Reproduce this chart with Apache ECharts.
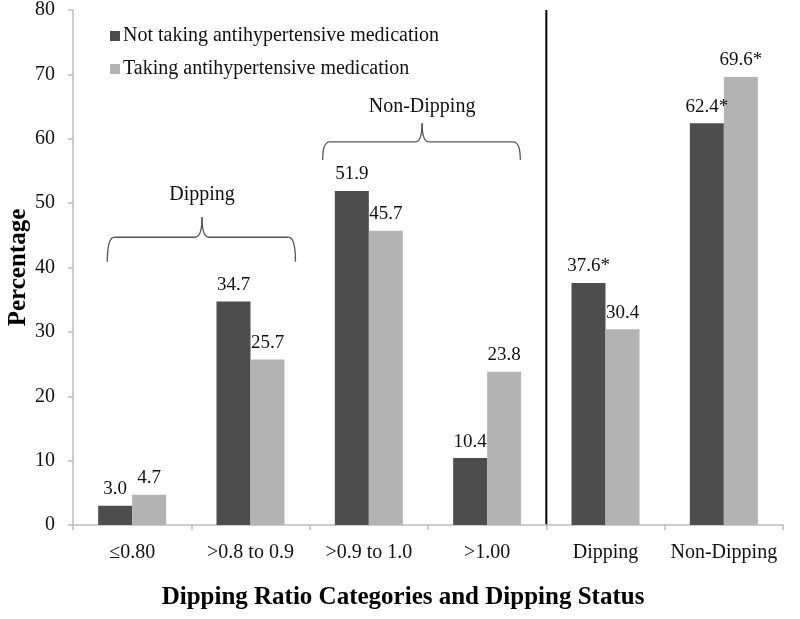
<!DOCTYPE html>
<html>
<head>
<meta charset="utf-8">
<script src="https://cdn.jsdelivr.net/npm/echarts@6/dist/echarts.min.js"></script>
<style>html,body{margin:0;padding:0;background:#fff}#c{width:800px;height:619px}</style>
</head>
<body>
<div id="c"></div>
<script>
var categories = ['≤0.80', '>0.8 to 0.9', '>0.9 to 1.0', '>1.00', 'Dipping', 'Non-Dipping'];
var notTaking = [3.0, 34.7, 51.9, 10.4, 37.6, 62.4];
var taking = [4.7, 25.7, 45.7, 23.8, 30.4, 69.6];
var notTakingLabels = ['3.0', '34.7', '51.9', '10.4', '37.6*', '62.4*'];
var takingLabels = ['4.7', '25.7', '45.7', '23.8', '30.4', '69.6*'];
var seriesNames = ['Not taking antihypertensive medication', 'Taking antihypertensive medication'];
var yTicks = [0, 10, 20, 30, 40, 50, 60, 70, 80];

var FONT = '"Liberation Serif", "Times New Roman", serif';
var chart = echarts.init(document.getElementById('c'));

function mk(vals, labels) {
  return vals.map(function (v, i) { return { value: v, label: { formatter: labels[i] } }; });
}

chart.setOption({
  animation: false,
  textStyle: { fontFamily: FONT },
  grid: { left: 73, right: 17, top: 10, bottom: 94, containLabel: false, outerBoundsMode: 'none' },
  legend: {
    orient: 'vertical', left: 105, top: 21, itemWidth: 10, itemHeight: 10, itemGap: 13,
    textStyle: { fontFamily: FONT, fontSize: 20, color: '#111', padding: [0, 0, 0, -2] },
    data: [{ name: seriesNames[0], icon: 'rect' }, { name: seriesNames[1], icon: 'rect' }]
  },
  xAxis: {
    type: 'category', data: categories,
    name: 'Dipping Ratio Categories and Dipping Status', nameLocation: 'middle', nameGap: 60,
    nameMoveOverlap: false,
    nameTextStyle: { fontFamily: FONT, fontSize: 25, fontWeight: 'bold', color: '#000', padding: [0, 50, 0, 0] },
    axisLine: { lineStyle: { color: '#bdbdbd', width: 1.5 } },
    axisTick: { show: true, length: 5, lineStyle: { color: '#bdbdbd', width: 1.5 } },
    axisLabel: { fontFamily: FONT, fontSize: 20, color: '#111', margin: 18, interval: 0 }
  },
  yAxis: {
    type: 'value', min: 0, max: 80, interval: 10,
    name: 'Percentage', nameLocation: 'middle', nameGap: 42,
    nameMoveOverlap: false,
    nameTextStyle: { fontFamily: FONT, fontSize: 25, fontWeight: 'bold', color: '#000' },
    axisLine: { show: true, lineStyle: { color: '#bdbdbd', width: 1.5 } },
    axisTick: { show: true, length: 5, lineStyle: { color: '#bdbdbd', width: 1.5 } },
    splitLine: { show: false },
    axisLabel: { fontFamily: FONT, fontSize: 20, color: '#111', margin: 18,
      formatter: function (v) { return yTicks.indexOf(v) >= 0 ? String(v) : ''; } }
  },
  series: [
    { name: seriesNames[0], type: 'bar', barWidth: 34, barGap: '0%',
      itemStyle: { color: '#4d4d4d' },
      label: { show: true, position: 'top', fontFamily: FONT, fontSize: 19, color: '#111', distance: 7 },
      data: mk(notTaking, notTakingLabels) },
    { name: seriesNames[1], type: 'bar', barWidth: 34, barGap: '0%',
      itemStyle: { color: '#b3b3b3' },
      label: { show: true, position: 'top', fontFamily: FONT, fontSize: 19, color: '#111', distance: 7 },
      data: mk(taking, takingLabels) }
  ]
});

function px(catIdx, offset, val) {
  var c0 = chart.convertToPixel({ xAxisIndex: 0 }, categories[0]);
  var c1 = chart.convertToPixel({ xAxisIndex: 0 }, categories[1]);
  var bw = c1 - c0;
  var x = c0 + (catIdx + offset) * bw;
  var y = chart.convertToPixel({ yAxisIndex: 0 }, val);
  return [x, y];
}
var BS = { stroke: '#555', lineWidth: 1.3, fill: null };
function brace(a, b, m, yTop, yEnd, yTip) {
  var p1 = px(0, a, yEnd), p2 = px(0, b, yEnd), pm = px(0, m, yTip);
  var top = px(0, 0, yTop)[1];
  var r = 7;
  return [
    { type: 'bezierCurve', shape: { x1: p1[0], y1: p1[1], x2: p1[0] + r, y2: top, cpx1: p1[0], cpy1: top }, style: BS },
    { type: 'line', shape: { x1: p1[0] + r, y1: top, x2: pm[0] - r, y2: top }, style: BS },
    { type: 'bezierCurve', shape: { x1: pm[0] - r, y1: top, x2: pm[0], y2: pm[1], cpx1: pm[0], cpy1: top }, style: BS },
    { type: 'bezierCurve', shape: { x1: pm[0], y1: pm[1], x2: pm[0] + r, y2: top, cpx1: pm[0], cpy1: top }, style: BS },
    { type: 'line', shape: { x1: pm[0] + r, y1: top, x2: p2[0] - r, y2: top }, style: BS },
    { type: 'bezierCurve', shape: { x1: p2[0] - r, y1: top, x2: p2[0], y2: p2[1], cpx1: p2[0], cpy1: top }, style: BS }
  ];
}
function lbl(m, val, text) {
  var p = px(0, m, val);
  return { type: 'text', x: p[0], y: p[1], style: { text: text, font: '20px ' + FONT, fill: '#111', textAlign: 'center', textVerticalAlign: 'middle' } };
}
var lineX = (px(3, 0, 0)[0] + px(4, 0, 0)[0]) / 2;
var yb = px(0, 0, 0)[1], yt = px(0, 0, 80)[1];
var g = [{ type: 'line', shape: { x1: lineX, y1: yt, x2: lineX, y2: yb }, style: { stroke: '#000', lineWidth: 2 } }];
g = g.concat(brace(-0.21, 1.38, 0.59, 44.7, 40.9, 47.8));
g.push(lbl(0.59, 51.3, 'Dipping'));
g = g.concat(brace(1.61, 3.28, 2.45, 59.5, 56.7, 62.4));
g.push(lbl(2.45, 65.0, 'Non-Dipping'));
chart.setOption({ graphic: g });
</script>
</body>
</html>
